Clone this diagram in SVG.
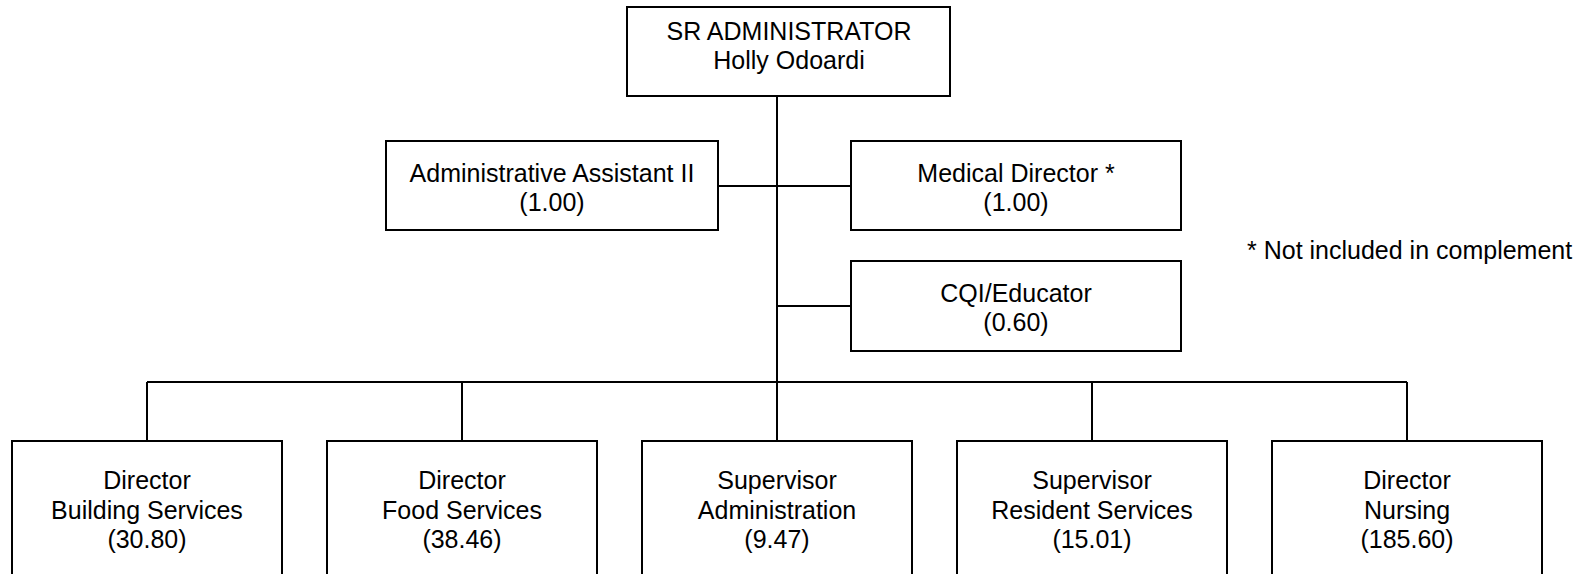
<svg xmlns="http://www.w3.org/2000/svg" width="1589" height="574" viewBox="0 0 1589 574">
  <style>
    .box { fill: #ffffff; stroke: #000000; stroke-width: 2; }
    .line { fill: none; stroke: #000000; stroke-width: 2; }
    .label { font-family: "Liberation Sans", Arial, sans-serif; font-size: 25px; fill: #000000; text-anchor: middle; }
    .note { font-family: "Liberation Sans", Arial, sans-serif; font-size: 25px; fill: #000000; }
  </style>
  <rect width="1589" height="574" fill="#ffffff"/>

  <!-- reporting lines -->
  <g id="connectors" class="line">
    <path d="M777 96 V441"/>
    <path d="M718 186 H851"/>
    <path d="M777 306 H851"/>
    <path d="M147 382 H1407"/>
    <path d="M147 382 V441"/>
    <path d="M462 382 V441"/>
    <path d="M1092 382 V441"/>
    <path d="M1407 382 V441"/>
  </g>

  <g id="sr-administrator">
    <rect class="box" x="627" y="7" width="323" height="89"/>
    <text class="label" x="789" y="39.5">SR ADMINISTRATOR</text>
    <text class="label" x="789" y="68.5">Holly Odoardi</text>
  </g>

  <g id="administrative-assistant">
    <rect class="box" x="386" y="141" width="332" height="89"/>
    <text class="label" x="552" y="181.5">Administrative Assistant II</text>
    <text class="label" x="552" y="210.5">(1.00)</text>
  </g>

  <g id="medical-director">
    <rect class="box" x="851" y="141" width="330" height="89"/>
    <text class="label" x="1016" y="181.5">Medical Director *</text>
    <text class="label" x="1016" y="210.5">(1.00)</text>
  </g>

  <g id="cqi-educator">
    <rect class="box" x="851" y="261" width="330" height="90"/>
    <text class="label" x="1016" y="302">CQI/Educator</text>
    <text class="label" x="1016" y="331">(0.60)</text>
  </g>

  <text class="note" x="1247" y="259">* Not included in complement</text>

  <g id="director-building-services">
    <rect class="box" x="12" y="441" width="270" height="150"/>
    <text class="label" x="147" y="489">Director</text>
    <text class="label" x="147" y="519">Building Services</text>
    <text class="label" x="147" y="548">(30.80)</text>
  </g>

  <g id="director-food-services">
    <rect class="box" x="327" y="441" width="270" height="150"/>
    <text class="label" x="462" y="489">Director</text>
    <text class="label" x="462" y="519">Food Services</text>
    <text class="label" x="462" y="548">(38.46)</text>
  </g>

  <g id="supervisor-administration">
    <rect class="box" x="642" y="441" width="270" height="150"/>
    <text class="label" x="777" y="489">Supervisor</text>
    <text class="label" x="777" y="519">Administration</text>
    <text class="label" x="777" y="548">(9.47)</text>
  </g>

  <g id="supervisor-resident-services">
    <rect class="box" x="957" y="441" width="270" height="150"/>
    <text class="label" x="1092" y="489">Supervisor</text>
    <text class="label" x="1092" y="519">Resident Services</text>
    <text class="label" x="1092" y="548">(15.01)</text>
  </g>

  <g id="director-nursing">
    <rect class="box" x="1272" y="441" width="270" height="150"/>
    <text class="label" x="1407" y="489">Director</text>
    <text class="label" x="1407" y="519">Nursing</text>
    <text class="label" x="1407" y="548">(185.60)</text>
  </g>
</svg>
